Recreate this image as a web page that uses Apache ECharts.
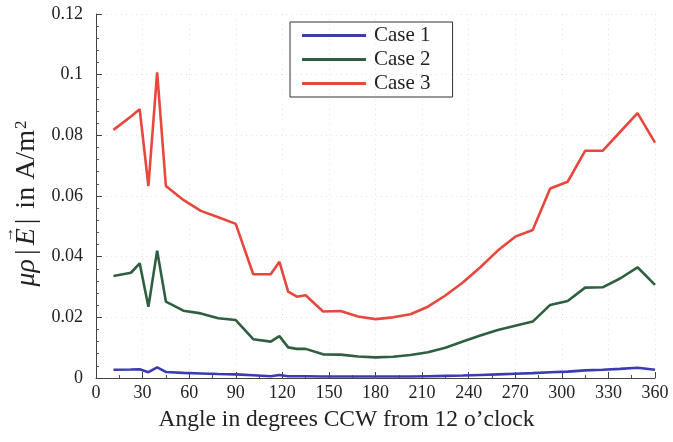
<!DOCTYPE html>
<html>
<head>
<meta charset="utf-8">
<script src="https://cdn.jsdelivr.net/npm/echarts@6/dist/echarts.min.js"></script>
<style>
  html, body { margin: 0; padding: 0; background: #fff; }
  #chart { width: 673px; height: 442px; }
</style>
</head>
<body>
<div id="chart"></div>
<script>
// Sample angles (degrees CCW from 12 o'clock)
const angles = [11.25, 22.5, 28.125, 33.75, 39.375, 45, 56.25, 67.5, 78.75, 90,
  101.25, 112.5, 118.125, 123.75, 129.375, 135, 146.25, 157.5, 168.75, 180,
  191.25, 202.5, 213.75, 225, 236.25, 247.5, 258.75, 270, 281.25, 292.5,
  303.75, 315, 326.25, 337.5, 348.75, 360];

const case1 = [0.0027, 0.0028, 0.0029, 0.0019, 0.0035, 0.0020, 0.0017, 0.0015, 0.0013, 0.0012,
  0.0009, 0.0006, 0.0010, 0.0006, 0.0006, 0.0006, 0.0005, 0.0005, 0.0005, 0.0005,
  0.0005, 0.0005, 0.0006, 0.0007, 0.0008, 0.0010, 0.0012, 0.0014, 0.0016, 0.0019,
  0.0021, 0.0025, 0.0027, 0.0030, 0.0034, 0.0027];

const case2 = [0.0336, 0.0347, 0.0378, 0.0235, 0.0420, 0.0252, 0.0222, 0.0213, 0.0197, 0.0191,
  0.0128, 0.0120, 0.0138, 0.0101, 0.0096, 0.0096, 0.0078, 0.0077, 0.0071, 0.0068,
  0.0070, 0.0076, 0.0085, 0.0100, 0.0120, 0.0140, 0.0158, 0.0172, 0.0186, 0.0241,
  0.0254, 0.0298, 0.0299, 0.0328, 0.0365, 0.0307];

const case3 = [0.0818, 0.0862, 0.0886, 0.0633, 0.1008, 0.0633, 0.0587, 0.0551, 0.0530, 0.0508,
  0.0342, 0.0342, 0.0383, 0.0285, 0.0268, 0.0273, 0.0219, 0.0221, 0.0203, 0.0194,
  0.0200, 0.0210, 0.0235, 0.0272, 0.0315, 0.0365, 0.0420, 0.0466, 0.0488, 0.0625,
  0.0647, 0.0749, 0.0749, 0.0811, 0.0873, 0.0776];

const seriesNames = ['Case 1', 'Case 2', 'Case 3'];
const seriesColors = ['#3b3bb3', '#2f5f3f', '#e8473d'];

const serif = 'Liberation Serif';
const pairs = vals => angles.map((a, i) => [a, vals[i]]);

const grid = { left: 96, right: 18, top: 14, bottom: 64 };

// Y-axis title: mu rho |E-vector| in A/m^2 as two-line rich text;
// the first line carries the vector arrow, padded so it sits over the E
const yTitleSize = 28, supSize = 17, arrowSize = 15;
const itPad = 1, barPad = 3, supPadLeft = 1;

const measure = (() => {
  const ctx = document.createElement('canvas').getContext('2d');
  return (text, font) => { ctx.font = font; return ctx.measureText(text).width; };
})();
const px = (size, italic) => (italic ? 'italic ' : '') + size + 'px "' + serif + '"';
const wMuRho = measure('\u03bc\u03c1', px(yTitleSize, true)) + 2 * itPad;
const wBar = measure('|', px(yTitleSize)) + 2 * barPad;
const wE = measure('E', px(yTitleSize, true)) + 2 * itPad;
const wRest = measure(' in A/m', px(yTitleSize));
const wSup = measure('2', px(supSize)) + supPadLeft;
const wTitle = wMuRho + 2 * wBar + wE + wRest + wSup;
const wArrow = measure('\u2192', px(arrowSize));
const padBefore = wMuRho + wBar + (wE - wArrow) / 2 + 2;
const padAfter = Math.max(1, wTitle - padBefore - wArrow);

const chart = echarts.init(document.getElementById('chart'), null, { renderer: 'canvas' });

const axisCommon = {
  axisLine: { show: true, lineStyle: { color: '#444', width: 1 } },
  axisTick: { show: true, inside: true, length: 6, lineStyle: { color: '#444' } },
  minorTick: { show: true, length: 3, lineStyle: { color: '#555' } },
  splitLine: { show: true, lineStyle: { color: '#e6e6e6', type: [1, 4], width: 1 } },
  axisLabel: { color: '#222', fontFamily: serif, fontSize: 18 }
};

chart.setOption({
  animation: false,
  backgroundColor: '#fff',
  grid: Object.assign({ containLabel: false, outerBoundsMode: 'none' }, grid),
  legend: {
    data: seriesNames,
    orient: 'vertical',
    left: 290,
    top: 22,
    itemWidth: 64,
    itemHeight: 3,
    itemGap: 3,
    padding: [3, 22, 3, 12],
    borderColor: '#333',
    borderWidth: 1,
    icon: 'rect',
    textStyle: { fontFamily: serif, fontSize: 21, color: '#222', padding: [0, 0, 0, 3] }
  },
  xAxis: Object.assign({}, axisCommon, {
    type: 'value',
    min: 0, max: 360, interval: 30,
    minorTick: Object.assign({}, axisCommon.minorTick, { splitNumber: 2 }),
    axisLabel: Object.assign({}, axisCommon.axisLabel, { margin: 6 }),
    name: 'Angle in degrees CCW from 12 o\u2019clock',
    nameLocation: 'middle',
    nameGap: 30,
    nameTextStyle: { fontFamily: serif, fontSize: 23.5, color: '#222', padding: [0, 58, 0, 0] }
  }),
  yAxis: Object.assign({}, axisCommon, {
    type: 'value',
    min: 0, max: 0.12, interval: 0.02,
    minorTick: Object.assign({}, axisCommon.minorTick, { splitNumber: 5 }),
    axisLabel: Object.assign({}, axisCommon.axisLabel, { margin: 13 }),
    name: '{gapA| }{arr|\u2192}{gapB| }\n{it|\u03bc\u03c1}{bar||}{it|E}{bar||}{txt| in A/m}{sup|2}',
    nameLocation: 'middle',
    nameRotate: 90,
    nameGap: 43,
    nameTextStyle: {
      fontFamily: serif, fontSize: yTitleSize, color: '#222',
      padding: [0, 16, 0, 0],
      rich: {
        gapA: { width: padBefore, fontSize: arrowSize, lineHeight: 7 },
        gapB: { width: padAfter, fontSize: arrowSize, lineHeight: 7 },
        arr: { fontFamily: serif, fontSize: arrowSize, color: '#222', lineHeight: 7 },
        it: { fontFamily: serif, fontSize: yTitleSize, fontStyle: 'italic', color: '#222', padding: [0, itPad, 0, itPad], lineHeight: 28 },
        bar: { fontFamily: serif, fontSize: yTitleSize, color: '#222', padding: [0, barPad, 0, barPad], lineHeight: 28 },
        txt: { fontFamily: serif, fontSize: yTitleSize, color: '#222', lineHeight: 28 },
        sup: { fontFamily: serif, fontSize: supSize, color: '#222', verticalAlign: 'top', lineHeight: 20, padding: [0, 0, 0, supPadLeft] }
      }
    }
  }),
  series: [case1, case2, case3].map((vals, i) => ({
    name: seriesNames[i],
    type: 'line',
    data: pairs(vals),
    showSymbol: false,
    symbol: 'none',
    lineStyle: { color: seriesColors[i], width: 2.6 },
    itemStyle: { color: seriesColors[i] }
  }))
});
</script>
</body>
</html>
